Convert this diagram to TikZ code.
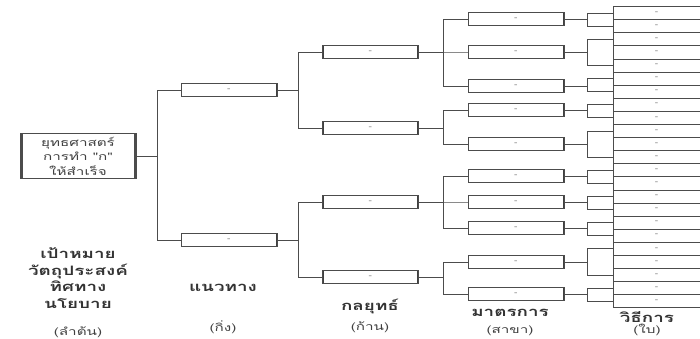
\documentclass[tikz,border=0pt]{standalone}
\usepackage{fontspec}
\newfontfamily\thaifont[Script=Thai, FakeStretch=1.45]{Loma}
\usetikzlibrary{positioning}

\tikzset{
  link/.style={draw=black!70, line width=0.8pt},
  tab/.style={draw=black!70, fill=white, line width=0.7pt, inner sep=0pt,
    minimum width=96pt, minimum height=13pt, font=\normalsize, text=black!60,
    path picture={\draw[black!75, line width=2.6pt]
      (path picture bounding box.north west) -- (path picture bounding box.south west)
      (path picture bounding box.north east) -- (path picture bounding box.south east);}},
  rootbox/.style={tab, minimum width=116pt, minimum height=45pt, align=center,
    font=\thaifont\fontsize{10.5}{14.5}\selectfont, text=black!75,
    path picture={\draw[black!70, line width=5pt]
      (path picture bounding box.north west) -- (path picture bounding box.south west)
      (path picture bounding box.north east) -- (path picture bounding box.south east);}},
  leaf/.style={draw=black!70, line width=0.7pt, inner sep=0pt, anchor=west,
    minimum width=87pt, minimum height=13.1pt, font=\normalsize, text=black!60},
  lbl/.style={align=center, text=black!80, font=\thaifont\bfseries\fontsize{13}{16.7}\selectfont},
  sub/.style={text=black!75, font=\thaifont\fontsize{10.5}{12}\selectfont},
}

\begin{document}
\begin{tikzpicture}[x=1pt, y=-1pt]
\useasboundingbox (0,0) rectangle (700,339);

% root
\node[rootbox] (root) at (78,156) {ยุทธศาสตร์\\การทำ "ก"\\ให้สำเร็จ};

% แนวทาง
\node[tab] (w1) at (229,90) {-};
\node[tab] (w2) at (229,240) {-};

% กลยุทธ์
\foreach \n/\y in {1/52, 2/128, 3/202, 4/277}
  \node[tab] (s\n) at (370.5,\y) {-};

% มาตรการ
\foreach \n/\y in {1/19, 2/52, 3/86, 4/110, 5/144, 6/176, 7/202, 8/228, 9/262, 10/294}
  \node[tab] (m\n) at (516,\y) {-};

% วิธีการ
\foreach \k in {1,...,23}
  \node[leaf] (v\k) at (613,{13.05+13.1*(\k-1)}) {-};

% connectors
\foreach \c in {w1,w2}
  \draw[link] (\c.west) -- ++(-23,0) |- (root.east);
\foreach \c/\p in {s1/w1, s2/w1, s3/w2, s4/w2}
  \draw[link] (\c.west) -- ++(-24,0) |- (\p.east);
\foreach \c/\p in {m1/s1, m2/s1, m3/s1, m4/s2, m5/s2, m6/s3, m7/s3, m8/s3, m9/s4, m10/s4}
  \draw[link] (\c.west) -- ++(-24,0) |- (\p.east);
\foreach \a/\b/\p in {1/2/m1, 3/5/m2, 6/7/m3, 8/9/m4, 10/12/m5, 13/14/m6, 15/16/m7, 17/18/m8, 19/21/m9, 22/23/m10} {
  \draw[link] (v\a.west) -- ++(-26,0) |- (\p.east);
  \draw[link] (v\b.west) -- ++(-26,0) |- (\p.east);
}

% labels
\node[lbl] (l0) at (78,278) {เป้าหมาย\\วัตถุประสงค์\\ทิศทาง\\นโยบาย};
\node[sub] (p0) at (78,332) {(ลำต้น)};
\node[lbl] (l1) at (223,288) {แนวทาง};
\node[sub] (p1) at (223,327) {(กิ่ง)};
\node[lbl] (l2) at (370,306) {กลยุทธ์};
\node[sub] (p2) at (370,327) {(ก้าน)};
\node[lbl] (l3) at (510,313) {มาตรการ};
\node[sub] (p3) at (510,331) {(สาขา)};
\node[lbl] (l4) at (647,317) {วิธีการ};
\node[sub] (p4) at (647,330) {(ใบ)};
\end{tikzpicture}
\end{document}
